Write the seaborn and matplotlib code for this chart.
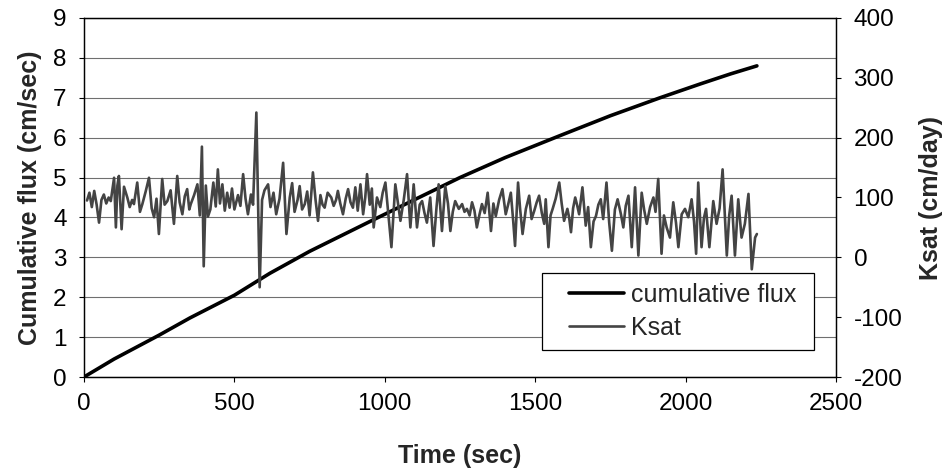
import numpy as np
import pandas as pd
import seaborn as sns
import matplotlib.pyplot as plt
from matplotlib.lines import Line2D
from matplotlib.legend_handler import HandlerLine2D

# Flujo acumulado (cm/sec)
flux_time = [0, 100, 250, 352, 500, 575, 618, 750, 951, 1100, 1250, 1400,
             1582, 1750, 1915, 2050, 2150, 2237]
flux_value = [0.0, 0.45, 1.05, 1.48, 2.05, 2.4, 2.6, 3.15, 3.9, 4.45, 5.0, 5.5,
              6.05, 6.55, 7.0, 7.35, 7.6, 7.8]

# Ksat (cm/day)
ksat_time = [10, 18, 26, 34, 42, 50, 58, 66, 74, 82, 89, 100, 106, 111, 116, 125,
             133, 144, 152, 160, 166, 177, 186, 194, 205, 216, 225, 233, 241, 249,
             260, 268, 277, 288, 299, 310, 318, 327, 335, 343, 350, 355, 366, 377,
             385, 392, 398, 405, 412, 420, 430, 438, 445, 452, 460, 468, 476, 484,
             492, 500, 512, 520, 529, 537, 545, 555, 562, 573, 584, 592, 600, 612,
             620, 630, 639, 650, 662, 673, 684, 692, 700, 710, 717, 725, 734, 742,
             750, 761, 770, 778, 786, 793, 800, 810, 822, 830, 838, 844, 852, 861,
             870, 878, 886, 894, 902, 910, 919, 928, 935, 941, 950, 957, 963, 974,
             985, 993, 1002, 1012, 1022, 1035, 1044, 1052, 1063, 1074, 1085, 1096,
             1107, 1116, 1124, 1132, 1140, 1151, 1162, 1172, 1179, 1190, 1201, 1210,
             1218, 1226, 1234, 1246, 1257, 1265, 1273, 1282, 1290, 1298, 1306, 1315,
             1323, 1332, 1342, 1353, 1361, 1369, 1380, 1391, 1402, 1410, 1419, 1427,
             1433, 1443, 1450, 1458, 1469, 1480, 1488, 1497, 1505, 1513, 1522, 1530,
             1535, 1544, 1551, 1558, 1568, 1580, 1588, 1596, 1607, 1613, 1619, 1626,
             1633, 1640, 1646, 1657, 1668, 1676, 1685, 1694, 1702, 1710, 1718, 1726,
             1737, 1746, 1755, 1765, 1774, 1785, 1793, 1801, 1810, 1821, 1832, 1843,
             1854, 1862, 1871, 1882, 1893, 1900, 1909, 1920, 1928, 1937, 1948, 1959,
             1968, 1976, 1987, 1998, 2009, 2020, 2028, 2035, 2042, 2053, 2061, 2068,
             2079, 2092, 2103, 2113, 2123, 2137, 2145, 2153, 2164, 2175, 2186, 2197,
             2209, 2220, 2231, 2237]
ksat_value = [95, 108, 84, 111, 88, 58, 96, 105, 90, 100, 94, 133, 50, 120, 136, 47,
              118, 100, 84, 96, 89, 125, 76, 89, 110, 133, 82, 67, 98, 39,
              131, 88, 94, 112, 56, 136, 92, 72, 102, 114, 80, 89, 104, 122,
              70, 185, -15, 120, 68, 80, 125, 85, 147, 90, 122, 78, 108, 83,
              115, 80, 104, 86, 139, 98, 72, 105, 88, 242, -50, 96, 112, 122,
              84, 108, 72, 98, 158, 39, 100, 124, 76, 96, 119, 80, 89, 110,
              70, 142, 95, 61, 104, 88, 83, 108, 100, 86, 96, 111, 90, 72,
              98, 114, 92, 83, 117, 78, 122, 72, 100, 139, 88, 115, 50, 100,
              84, 108, 125, 70, 17, 122, 90, 61, 96, 139, 50, 122,
              50, 88, 94, 74, 58, 100, 19, 84, 122, 44, 119, 90,
              44, 76, 94, 81, 89, 76, 81, 70, 92, 78, 50, 72,
              89, 74, 108, 44, 90, 69, 96, 114, 72, 88, 108, 60,
              19, 125, 80, 39, 81, 103, 64, 78, 92, 103, 74, 56,
              97, 17, 70, 81, 98, 125, 90, 61, 81, 66, 42, 82,
              100, 86, 72, 117, 53, 84, 17, 60, 69, 88, 97, 64,
              125, 58, 11, 80, 97, 72, 50, 86, 103, 17, 117, 3,
              108, 80, 56, 84, 100, 76, 131, 6, 70, 50, 33, 92,
              58, 17, 72, 81, 67, 97, 60, 6, 125, 17, 66, 81,
              17, 94, 56, 82, 147, 3, 70, 103, 3, 97, 33, 56,
              106, -20, 33, 39]

flux_df = pd.DataFrame({'time': flux_time, 'flux': flux_value})
ksat_df = pd.DataFrame({'time': ksat_time, 'ksat': ksat_value})

sns.set_theme(style="ticks")
plt.rcParams['font.family'] = ['Liberation Sans', 'DejaVu Sans']
plt.rcParams['axes.unicode_minus'] = False

fig, ax = plt.subplots(figsize=(9.46, 4.75), dpi=100)
fig.subplots_adjust(left=84/946, right=836/946, bottom=1-377/475, top=1-18/475)

sns.lineplot(x='time', y='flux', data=flux_df, ax=ax, color='black',
             linewidth=2.6, estimator=None, zorder=3)
ax.set_xlim(0, 2500)
ax.set_ylim(0, 9)
ax.set_xticks(range(0, 2501, 500))
ax.set_yticks(range(0, 10))
ax.yaxis.grid(True, color='#6f6f6f', linewidth=0.8)
ax.set_axisbelow(True)
ax.set_xlabel('Time (sec)', fontsize=18, fontweight='bold', labelpad=21)
ax.set_ylabel('Cumulative flux (cm/sec)', fontsize=18, fontweight='bold', labelpad=8)

ax2 = ax.twinx()
sns.lineplot(x='time', y='ksat', data=ksat_df, ax=ax2, color='#444444',
             linewidth=1.9, estimator=None)
ax2.set_ylim(-200, 400)
ax2.set_yticks(range(-200, 401, 100))
ax2.set_ylabel('Ksat (cm/day)', fontsize=18, fontweight='bold', labelpad=12)

for a in (ax, ax2):
    a.tick_params(labelsize=17.5, direction='out', length=3.6, width=0.8,
                  colors='black', pad=9)
    for s in a.spines.values():
        s.set_color('black')
        s.set_linewidth(0.9)
    a.set_facecolor('none')
ax.tick_params(axis='x', pad=8)

handles = [Line2D([], [], color='black', linewidth=2.6),
           Line2D([], [], color='#444444', linewidth=1.9)]
leg = ax2.legend(handles, ['cumulative flux', 'Ksat'], loc='upper left',
                 bbox_to_anchor=(0.609, 0.07, 0.362, 0.22), mode='expand',
                 borderaxespad=0, fontsize=18,
                 handlelength=2.9, handletextpad=0.25, labelspacing=0.35,
                 borderpad=0.4, fancybox=False, framealpha=1, edgecolor='black',
                 handler_map={Line2D: HandlerLine2D(xpad=0.7)})
leg.get_frame().set_linewidth(0.9)

plt.savefig('out.png', dpi=100)
